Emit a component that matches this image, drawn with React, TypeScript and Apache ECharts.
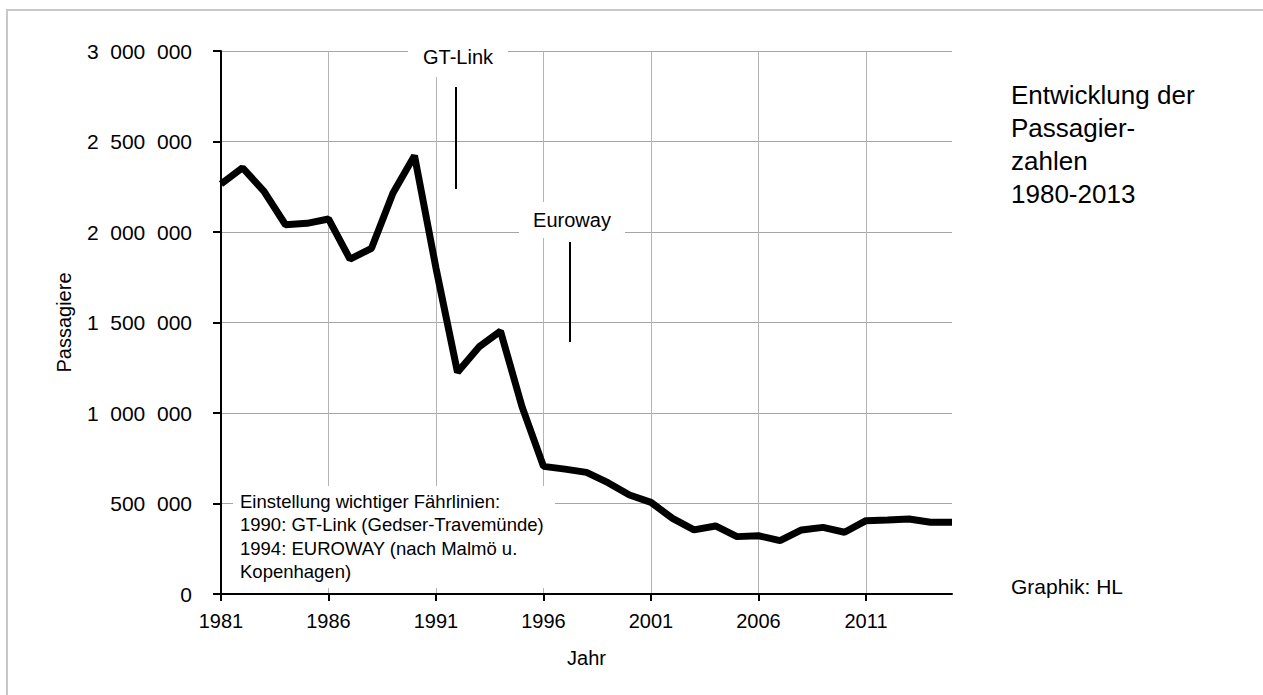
import React, { useEffect, useRef } from "react";
import * as echarts from "echarts";

const years: string[] = [
  "1981","1982","1983","1984","1985","1986","1987","1988","1989","1990",
  "1991","1992","1993","1994","1995","1996","1997","1998","1999","2000",
  "2001","2002","2003","2004","2005","2006","2007","2008","2009","2010",
  "2011","2012","2013","2014","2015",
];

const passengers: number[] = [
  2265000, 2355000, 2225000, 2040000, 2048000, 2072000, 1850000, 1910000, 2215000, 2422000,
  1800000, 1225000, 1365000, 1452000, 1035000, 705000, 690000, 672000, 615000, 547000,
  506000, 418000, 354000, 376000, 317000, 322000, 295000, 354000, 368000, 341000,
  405000, 409000, 414000, 396000, 396000,
];

const yTicks: number[] = [0, 500000, 1000000, 1500000, 2000000, 2500000, 3000000];

const titleLines: string[] = ["Entwicklung der", "Passagier-", "zahlen", "1980-2013"];
const noteLines: string[] = [
  "Einstellung wichtiger Fährlinien:",
  "1990: GT-Link (Gedser-Travemünde)",
  "1994: EUROWAY (nach Malmö u.",
  "Kopenhagen)",
];

const FONT = "'Liberation Sans', Arial, sans-serif";

function fmt(v: number): string {
  if (v === 0) return "0";
  return String(v).replace(/\B(?=(\d{3})+(?!\d))/g, "\u00a0\u00a0");
}

export default function App() {
  const ref = useRef<HTMLDivElement>(null);
  useEffect(() => {
    if (!ref.current) return;
    const chart = echarts.init(ref.current, null, { renderer: "svg" });
    chart.setOption({
      animation: false,
      backgroundColor: "#ffffff",
      textStyle: { fontFamily: FONT },
      grid: { left: 221, right: 311, top: 51, bottom: 101, containLabel: false },
      xAxis: {
        type: "category",
        data: years,
        boundaryGap: false,
        axisLine: { show: true, lineStyle: { color: "#000", width: 2 } },
        axisTick: { show: true, inside: false, length: 7, interval: 4, lineStyle: { color: "#000", width: 2 } },
        axisLabel: { interval: 4, margin: 17, color: "#000", fontSize: 20, fontFamily: FONT },
        splitLine: { show: true, interval: 4, lineStyle: { color: "#b4b4b4", width: 1 } },
      },
      yAxis: {
        type: "value",
        min: yTicks[0],
        max: yTicks[yTicks.length - 1],
        interval: yTicks[1] - yTicks[0],
        axisLine: { show: true, lineStyle: { color: "#000", width: 2 } },
        axisTick: { show: true, inside: false, length: 8, lineStyle: { color: "#000", width: 2 } },
        axisLabel: { margin: 29, color: "#000", fontSize: 21, fontFamily: FONT, formatter: fmt },
        splitLine: { show: true, lineStyle: { color: "#a6a6a6", width: 1 } },
      },
      series: [
        {
          type: "line",
          data: passengers,
          showSymbol: false,
          symbol: "none",
          lineStyle: { color: "#000", width: 7 },
          z: 3,
        },
      ],
      graphic: [
        {
          type: "rect",
          z: 0,
          silent: true,
          shape: { x: 7, y: 10, width: 1300, height: 720 },
          style: { fill: "none", stroke: "#c8c8c8", lineWidth: 2 },
        },
        {
          type: "rect",
          z: 100,
          shape: { x: 408, y: 37, width: 100, height: 40 },
          style: { fill: "#fff" },
        },
        {
          type: "text",
          z: 101,
          x: 458,
          y: 57,
          style: { text: "GT-Link", fill: "#000", font: `20px ${FONT}`, align: "center", verticalAlign: "middle" },
        },
        {
          type: "line",
          z: 101,
          shape: { x1: 456, y1: 87, x2: 456, y2: 189 },
          style: { stroke: "#000", lineWidth: 2 },
        },
        {
          type: "rect",
          z: 100,
          shape: { x: 519, y: 202, width: 106, height: 36 },
          style: { fill: "#fff" },
        },
        {
          type: "text",
          z: 101,
          x: 572,
          y: 220,
          style: { text: "Euroway", fill: "#000", font: `20px ${FONT}`, align: "center", verticalAlign: "middle" },
        },
        {
          type: "line",
          z: 101,
          shape: { x1: 570, y1: 242, x2: 570, y2: 342 },
          style: { stroke: "#000", lineWidth: 2 },
        },
        {
          type: "rect",
          z: 100,
          shape: { x: 233, y: 486, width: 322, height: 102 },
          style: { fill: "#fff" },
        },
        {
          type: "text",
          z: 101,
          x: 240,
          y: 490,
          style: {
            text: noteLines.join("\n"),
            fill: "#000",
            font: `18.5px ${FONT}`,
            lineHeight: 23.3,
            align: "left",
            verticalAlign: "top",
          },
        },
        {
          type: "text",
          z: 101,
          x: 1011,
          y: 78.5,
          style: {
            text: titleLines.join("\n"),
            fill: "#000",
            font: `26px ${FONT}`,
            lineHeight: 33,
            align: "left",
            verticalAlign: "top",
          },
        },
        {
          type: "text",
          z: 101,
          x: 1011,
          y: 586,
          style: { text: "Graphik: HL", fill: "#000", font: `21px ${FONT}`, align: "left", verticalAlign: "middle" },
        },
        {
          type: "text",
          z: 101,
          x: 586.5,
          y: 658,
          style: { text: "Jahr", fill: "#000", font: `20px ${FONT}`, align: "center", verticalAlign: "middle" },
        },
        {
          type: "text",
          z: 101,
          x: 64,
          y: 322.5,
          rotation: Math.PI / 2,
          style: { text: "Passagiere", fill: "#000", font: `20px ${FONT}`, align: "center", verticalAlign: "middle" },
        },
      ],
    });
    return () => chart.dispose();
  }, []);
  return (
    <div
      ref={ref}
      style={{ position: "absolute", left: 0, top: 0, width: 1263, height: 695 }}
    />
  );
}
